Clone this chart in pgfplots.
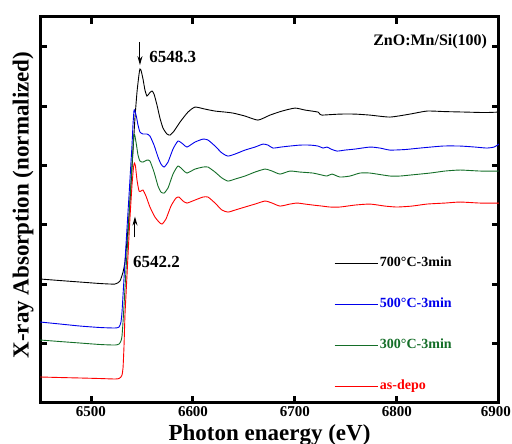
\documentclass[border=0pt]{standalone}
\usepackage{fontspec}
\setmainfont{Liberation Serif}
\usepackage{pgfplots}
\pgfplotsset{compat=1.18}
\usetikzlibrary{arrows.meta}
\definecolor{xgreen}{RGB}{20,110,40}
\definecolor{xblue}{RGB}{0,0,235}
\definecolor{xred}{RGB}{255,0,0}

\pgfplotstableread{
E Y
6450.0 2.088
6469.6 2.062
6489.2 2.037
6508.8 2.012
6523.5 2.003
6528.4 2.054
6531.4 2.205
6533.3 2.374
6535.3 2.744
6537.3 3.165
6539.2 3.670
6541.2 4.259
6543.1 4.798
6545.1 5.236
6547.1 5.539
6548.0 5.623
6549.0 5.606
6551.0 5.455
6552.9 5.269
6554.9 5.168
6557.3 5.219
6559.8 5.253
6561.8 5.202
6564.7 5.017
6567.6 4.798
6570.6 4.630
6574.5 4.529
6577.5 4.512
6581.4 4.579
6587.3 4.731
6595.1 4.899
6602.0 4.983
6611.8 4.949
6621.6 4.916
6631.4 4.899
6639.2 4.882
6651.0 4.832
6663.7 4.764
6675.5 4.848
6687.3 4.916
6700.0 4.966
6709.8 4.933
6722.5 4.899
6724.5 4.860
6726.5 4.848
6744.1 4.865
6758.8 4.865
6773.5 4.848
6793.1 4.815
6812.7 4.865
6829.4 4.916
6847.1 4.907
6866.7 4.899
6886.3 4.891
6900.0 4.899
}\tblack

\pgfplotstableread{
E Y
6450.0 1.364
6469.6 1.330
6489.2 1.296
6508.8 1.271
6523.5 1.263
6527.5 1.279
6529.4 1.364
6530.4 1.532
6531.4 1.818
6533.3 2.374
6535.3 2.946
6537.3 3.502
6539.2 4.057
6540.2 4.343
6541.2 4.697
6542.2 4.933
6543.1 4.916
6544.6 4.815
6546.1 4.680
6548.0 4.562
6551.0 4.529
6554.9 4.529
6557.8 4.495
6561.8 4.343
6565.7 4.141
6568.6 4.024
6571.6 3.973
6575.5 4.057
6580.4 4.276
6585.3 4.411
6590.2 4.360
6594.1 4.310
6602.0 4.394
6609.8 4.444
6614.7 4.428
6621.6 4.327
6628.4 4.209
6634.3 4.158
6641.2 4.192
6651.0 4.259
6660.8 4.310
6668.6 4.360
6673.5 4.343
6678.4 4.293
6686.3 4.310
6695.1 4.327
6704.9 4.343
6714.7 4.343
6722.5 4.327
6727.5 4.293
6731.4 4.310
6735.3 4.276
6741.2 4.242
6749.0 4.259
6758.8 4.276
6773.5 4.310
6783.3 4.293
6793.1 4.259
6807.8 4.268
6822.5 4.293
6845.1 4.327
6861.8 4.327
6876.5 4.310
6888.2 4.293
6895.1 4.310
6900.0 4.360
}\tblue

\pgfplotstableread{
E Y
6450.0 1.061
6469.6 1.035
6489.2 1.010
6508.8 0.985
6523.5 0.976
6527.5 0.993
6529.4 1.044
6530.4 1.128
6531.4 1.364
6532.4 1.650
6534.3 2.239
6536.3 2.828
6538.2 3.418
6540.2 4.007
6541.2 4.293
6542.2 4.529
6543.1 4.495
6544.6 4.343
6546.1 4.175
6548.0 4.074
6551.0 4.057
6554.9 4.091
6557.8 4.074
6561.8 3.889
6565.7 3.653
6568.6 3.552
6571.6 3.535
6575.5 3.620
6580.4 3.855
6585.3 3.990
6590.2 3.923
6594.1 3.872
6602.0 3.939
6609.8 3.973
6614.7 3.973
6621.6 3.889
6628.4 3.788
6634.3 3.737
6641.2 3.771
6651.0 3.822
6660.8 3.889
6670.6 3.939
6677.5 3.906
6685.3 3.855
6695.1 3.906
6704.9 3.889
6717.6 3.872
6726.5 3.838
6731.4 3.822
6736.3 3.855
6744.1 3.805
6753.9 3.822
6763.7 3.872
6773.5 3.872
6793.1 3.822
6802.9 3.822
6812.7 3.838
6832.4 3.872
6847.1 3.906
6861.8 3.923
6881.4 3.906
6900.0 3.906
}\tgreen

\pgfplotstableread{
E Y
6450.0 0.438
6469.6 0.429
6489.2 0.421
6508.8 0.412
6523.5 0.404
6527.5 0.412
6529.4 0.438
6530.4 0.471
6531.4 0.589
6532.4 0.976
6533.3 1.481
6534.3 1.818
6536.3 2.492
6538.2 3.114
6540.2 3.670
6541.7 3.973
6542.6 4.040
6543.6 3.990
6545.1 3.754
6547.1 3.569
6549.0 3.569
6551.0 3.586
6553.9 3.485
6557.8 3.300
6562.7 3.131
6566.7 3.047
6569.6 3.013
6573.5 3.098
6578.4 3.316
6583.3 3.451
6586.3 3.468
6590.2 3.401
6594.1 3.367
6602.0 3.418
6609.8 3.468
6614.7 3.468
6621.6 3.367
6628.4 3.249
6634.3 3.215
6641.2 3.249
6651.0 3.300
6660.8 3.350
6670.6 3.401
6677.5 3.367
6685.3 3.316
6695.1 3.350
6702.0 3.367
6709.8 3.350
6717.6 3.333
6726.5 3.316
6734.3 3.300
6744.1 3.300
6758.8 3.333
6773.5 3.350
6788.2 3.316
6800.0 3.300
6814.7 3.316
6829.4 3.350
6847.1 3.367
6861.8 3.384
6881.4 3.367
6900.0 3.367
}\tred

\begin{document}
\begin{tikzpicture}[x=1pt,y=1pt]
\useasboundingbox (0,0) rectangle (512,444);
\begin{axis}[
  at={(40pt,41pt)}, anchor=south west,
  width=459pt, height=386pt, scale only axis,
  xmin=6450, xmax=6900, ymin=0, ymax=6.5,
  xtick={6500,6600,6700,6800,6900},
  xticklabels={6500,6600,6700,6800,\makebox[0pt][c]{\hspace{-6pt}6900}},
  ytick={1,2,3,4,5,6}, yticklabels={},
  /pgf/number format/assume math mode=true,
  xticklabel style={font=\fontsize{15}{15}\selectfont\bfseries},
  axis line style={line width=3pt},
  major tick length=7pt,
  every tick/.style={line width=3pt, black},
  xlabel={Photon enaergy (eV)},
  ylabel={X-ray Absorption (normalized)},
  every axis x label/.style={at={(axis description cs:0.5,-0.096)}, anchor=base,
    font=\fontsize{23}{23}\selectfont\bfseries},
  every axis y label/.style={at={(axis description cs:-0.037,0.513)}, anchor=center, rotate=90,
    font=\fontsize{23}{23}\selectfont\bfseries},
  legend image code/.code={\draw[#1] (0pt,0pt) -- (43pt,0pt);},
  legend style={at={(axis description cs:0.771,0.203)}, anchor=center,
    draw=none, fill=none, font=\fontsize{14}{14}\selectfont\bfseries,
    row sep=24pt, legend cell align=left,
    nodes={inner sep=2pt, text height=10pt, text depth=3pt}},
]
\addplot[black, line width=0.9pt, smooth, tension=0.35] table[x=E,y=Y] {\tblack};
\addlegendentry{700°C-3min}
\addplot[xblue, line width=0.9pt, smooth, tension=0.35] table[x=E,y=Y] {\tblue};
\addlegendentry{\textcolor{xblue}{500°C-3min}}
\addplot[xgreen, line width=0.9pt, smooth, tension=0.35] table[x=E,y=Y] {\tgreen};
\addlegendentry{\textcolor{xgreen}{300°C-3min}}
\addplot[xred, line width=0.9pt, smooth, tension=0.35] table[x=E,y=Y] {\tred};
\addlegendentry{\textcolor{xred}{as-depo}}

\draw[-{Stealth[length=9pt,width=5pt]}, line width=1pt] (axis cs:6548,6.08) -- (axis cs:6548,5.69);
\node[anchor=west, inner sep=0pt, font=\fontsize{17}{17}\selectfont\bfseries] at (axis cs:6557,5.83) {6548.3};
\draw[-{Stealth[length=9pt,width=5pt]}, line width=1pt] (axis cs:6543.1,2.79) -- (axis cs:6543.1,3.14);
\node[anchor=west, inner sep=0pt, font=\fontsize{17}{17}\selectfont\bfseries] at (axis cs:6541,2.37) {6542.2};
\node[anchor=east, inner sep=0pt, font=\fontsize{16}{16}\selectfont\bfseries] at (axis cs:6888.5,6.08) {ZnO:Mn/Si(100)};
\end{axis}
\end{tikzpicture}
\end{document}
